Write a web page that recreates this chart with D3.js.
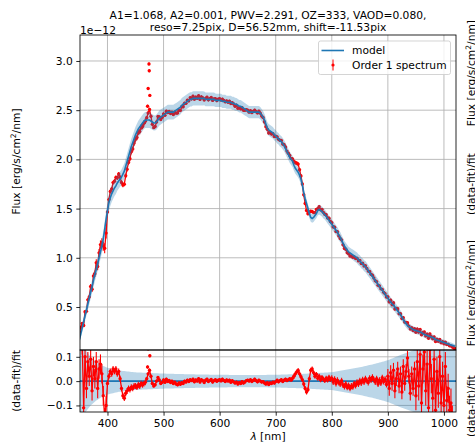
<!doctype html>
<html>

<head>
    <meta charset="UTF-8">
    <title>Order 1 spectrum fit</title>
    <script src="https://d3js.org/d3.v7.min.js"></script>
    <style>
        body { margin: 0; background: #fff; }
        text { font-family: "DejaVu Sans", sans-serif; font-size: 10.7px; fill: #000; }
    </style>
</head>

<body>
    <script>
        var width = 475;
        var height = 446;

        // wavelength grid: 350 nm, step 2.5 nm
        var lamStart = 350, lamStep = 2.5;

        // model flux [1e-12 erg/s/cm2/nm], one row = 50 nm
        var model = [
            0.17, 0.23, 0.29, 0.35, 0.41, 0.47, 0.53, 0.59, 0.65, 0.71, 0.77, 0.83, 0.88, 0.94, 1.00, 1.06, 1.12, 1.19, 1.29, 1.39,
            1.48, 1.56, 1.61, 1.65, 1.68, 1.71, 1.73, 1.76, 1.78, 1.80, 1.82, 1.85, 1.88, 1.93, 1.98, 2.03, 2.08, 2.13, 2.17, 2.21,
            2.25, 2.28, 2.31, 2.33, 2.35, 2.37, 2.39, 2.40, 2.40, 2.40, 2.40, 2.39, 2.38, 2.37, 2.37, 2.38, 2.40, 2.42, 2.43, 2.44,
            2.45, 2.46, 2.47, 2.48, 2.48, 2.48, 2.48, 2.48, 2.49, 2.50, 2.51, 2.52, 2.53, 2.55, 2.56, 2.57, 2.58, 2.59, 2.60, 2.61,
            2.61, 2.62, 2.62, 2.62, 2.62, 2.62, 2.62, 2.62, 2.62, 2.62, 2.61, 2.61, 2.61, 2.61, 2.61, 2.61, 2.61, 2.60, 2.60, 2.60,
            2.60, 2.60, 2.59, 2.59, 2.59, 2.58, 2.58, 2.58, 2.58, 2.57, 2.57, 2.56, 2.56, 2.55, 2.54, 2.54, 2.53, 2.52, 2.51, 2.50,
            2.49, 2.48, 2.48, 2.48, 2.48, 2.48, 2.48, 2.48, 2.48, 2.47, 2.45, 2.43, 2.40, 2.36, 2.32, 2.30, 2.29, 2.28, 2.27, 2.25,
            2.24, 2.22, 2.21, 2.19, 2.18, 2.16, 2.14, 2.11, 2.08, 2.05, 2.02, 2.00, 1.98, 1.94, 1.91, 1.89, 1.87, 1.84, 1.80, 1.74,
            1.66, 1.60, 1.55, 1.50, 1.45, 1.41, 1.40, 1.41, 1.43, 1.45, 1.48, 1.49, 1.48, 1.47, 1.45, 1.44, 1.42, 1.40, 1.38, 1.36,
            1.34, 1.32, 1.30, 1.28, 1.26, 1.23, 1.21, 1.18, 1.15, 1.12, 1.10, 1.08, 1.06, 1.05, 1.04, 1.03, 1.02, 1.01, 1.00, 0.98,
            0.97, 0.95, 0.94, 0.92, 0.91, 0.89, 0.87, 0.85, 0.83, 0.81, 0.79, 0.77, 0.75, 0.73, 0.71, 0.69, 0.67, 0.65, 0.63, 0.61,
            0.59, 0.57, 0.55, 0.53, 0.52, 0.50, 0.48, 0.46, 0.44, 0.42, 0.40, 0.37, 0.35, 0.33, 0.31, 0.30, 0.29, 0.28, 0.27, 0.265,
            0.26, 0.255, 0.25, 0.245, 0.24, 0.23, 0.22, 0.215, 0.21, 0.205, 0.20, 0.195, 0.19, 0.18, 0.17, 0.165, 0.16, 0.155, 0.15, 0.145,
            0.14, 0.135, 0.13, 0.125, 0.12, 0.115, 0.11, 0.105, 0.10
        ];

        // (data-fit)/fit on the same grid
        var resid = [
            0.45, 0.28, 0.15, -0.11, 0.10, -0.03, 0.08, 0.02, 0.09, -0.04, 0.06, 0.01, 0.08, -0.03, 0.05, 0.07, 0.03, -0.06, -0.15, -0.10,
            -0.01, 0.02, 0.04, 0.03, 0.05, 0.04, 0.05, 0.03, 0.04, 0.01, -0.03, -0.06, -0.07, -0.05, -0.04, -0.03, -0.035, -0.025, -0.03, -0.02,
            -0.02, -0.025, -0.015, -0.02, -0.01, -0.015, -0.01, -0.005, 0.01, 0.03, 0.045, 0.02, -0.01, -0.02, -0.015, 0.0, 0.015, 0.005, -0.01, -0.005,
            0.005, -0.005, 0.008, -0.002, 0.003, -0.006, 0.0, -0.01, -0.004, -0.012, -0.015, -0.008, -0.013, -0.006, -0.01, 0.0, -0.004, 0.004, -0.002, 0.006,
            0.002, 0.008, -0.003, 0.005, 0.0, 0.01, -0.004, 0.006, 0.002, -0.006, 0.004, 0.008, -0.002, 0.003, 0.007, -0.004, 0.002, 0.006, -0.001, 0.004,
            0.006, 0.001, 0.008, 0.003, -0.002, 0.005, 0.0, 0.004, -0.005, 0.002, -0.003, -0.008, -0.004, -0.012, -0.006, -0.01, -0.002, -0.008, -0.004, 0.002,
            0.004, 0.0, 0.006, -0.002, 0.003, 0.008, 0.002, -0.003, 0.004, 0.0, -0.004, -0.002, -0.008, -0.012, -0.006, -0.014, -0.008, -0.01, -0.004, -0.008,
            -0.002, 0.004, -0.003, 0.002, 0.006, -0.002, 0.004, 0.008, 0.002, 0.006, 0.01, 0.004, 0.012, 0.02, 0.03, 0.038, 0.044, 0.03, 0.018, 0.006,
            -0.012, -0.03, -0.045, -0.035, 0.01, 0.045, 0.05, 0.035, 0.02, 0.028, 0.012, 0.02, 0.005, 0.015, 0.008, 0.002, 0.012, 0.004, 0.016, 0.006,
            0.012, -0.004, 0.008, -0.01, 0.004, -0.006, -0.012, 0.002, -0.016, -0.022, -0.012, -0.026, -0.018, -0.03, -0.02, -0.024, -0.01, -0.018, -0.004, -0.012,
            0.002, -0.008, 0.006, -0.004, 0.01, 0.002, -0.006, 0.012, 0.004, 0.016, 0.006, -0.004, 0.01, -0.012, 0.004, -0.008, 0.014, -0.002, 0.008, -0.014,
            0.02, -0.03, 0.035, -0.01, 0.045, -0.04, 0.01, 0.05, -0.02, 0.03, -0.045, 0.06, -0.01, 0.04, 0.095, 0.02, -0.05, 0.03, -0.03, 0.05,
            -0.06, 0.08, -0.02, 0.11, -0.09, 0.05, 0.12, -0.04, 0.07, -0.11, 0.13, 0.01, -0.07, 0.09, -0.12, 0.04, -0.05, 0.10, -0.09, 0.02,
            -0.10, 0.06, -0.08, -0.03, -0.12, -0.09, -0.16, -0.20, -0.25
        ];

        // isolated bright points near 474 nm
        var outLam = [471.5, 472.5, 474, 474.5, 475.5];
        var outFlux = [2.54, 2.72, 2.97, 2.90, 2.65];

        // relative error bars by wavelength range
        var errBreaks = [400, 470, 730, 800, 900, 950];
        var errRel = [0.04, 0.012, 0.006, 0.01, 0.012, 0.03, 0.06];

        // relative model uncertainty band
        var bandLam = [350, 360, 370, 380, 390, 400, 420, 450, 500, 550, 600, 650, 700, 750, 800, 850, 875, 900, 925, 950, 975, 1000, 1020];
        var bandRel = [0.20, 0.13, 0.10, 0.08, 0.065, 0.055, 0.044, 0.036, 0.031, 0.028, 0.026, 0.025, 0.026, 0.03, 0.037, 0.057, 0.07, 0.086, 0.11, 0.13, 0.16, 0.19, 0.22];

        var xTicks = [400, 500, 600, 700, 800, 900, 1000];
        var fluxTicks = [0.5, 1.0, 1.5, 2.0, 2.5, 3.0];
        var resTicks = [-0.1, 0.0, 0.1];
        var titleLines = ["A1=1.068, A2=0.001, PWV=2.291, OZ=333, VAOD=0.080,",
            "reso=7.25pix, D=56.52mm, shift=-11.53pix"];

        var blue = "#1f77b4";
        var left = 80, right = 456, mainTop = 35, mainBottom = 350, resBottom = 412;

        var x = d3.scaleLinear().domain([351, 1021.5]).range([left, right]);
        var yMain = d3.scaleLinear().domain([0.063, 3.264]).range([mainBottom, mainTop]);
        var yRes = d3.scaleLinear().domain([-0.127, 0.128]).range([resBottom, mainBottom]);
        var errScale = d3.scaleThreshold().domain(errBreaks).range(errRel);
        var bandScale = d3.scaleLinear().domain(bandLam).range(bandRel);

        var grid = model.map(function (m, i) {
            var l = lamStart + i * lamStep;
            return { lam: l, model: m, res: resid[i], flux: m * (1 + resid[i]), err: errScale(l) };
        });
        var points = grid.slice();
        outLam.forEach(function (l, j) {
            var m = model[Math.round((l - lamStart) / lamStep)];
            points.push({ lam: l, model: m, res: outFlux[j] / m - 1, flux: outFlux[j], err: errScale(l) });
        });

        var svg = d3.select("body").append("svg")
            .attr("width", width)
            .attr("height", height);
        svg.append("rect").attr("width", width).attr("height", height).attr("fill", "#fff");

        var defs = svg.append("defs");
        defs.append("clipPath").attr("id", "clipMain").append("rect")
            .attr("x", left).attr("y", mainTop).attr("width", right - left).attr("height", mainBottom - mainTop);
        defs.append("clipPath").attr("id", "clipRes").append("rect")
            .attr("x", left).attr("y", mainBottom).attr("width", right - left).attr("height", resBottom - mainBottom);

        function gridLines(g, yScale, yTicks, y0, y1) {
            g.selectAll("line.gx").data(xTicks).enter().append("line")
                .attr("x1", function (d) { return x(d); }).attr("x2", function (d) { return x(d); })
                .attr("y1", y0).attr("y2", y1)
                .attr("stroke", "#b0b0b0").attr("stroke-width", 0.85);
            g.selectAll("line.gy").data(yTicks).enter().append("line")
                .attr("x1", left).attr("x2", right)
                .attr("y1", function (d) { return yScale(d); }).attr("y2", function (d) { return yScale(d); })
                .attr("stroke", "#b0b0b0").attr("stroke-width", 0.85);
        }

        // dense spectrum: joined samples, error bars and markers
        function errorBars(g, data, lo, hi, yv) {
            g.append("path").datum(grid)
                .attr("d", d3.line().x(function (d) { return x(d.lam); }).y(yv))
                .attr("fill", "none").attr("stroke", "red").attr("stroke-width", 1.3);
            g.append("g").selectAll("line").data(data).enter().append("line")
                .attr("x1", function (d) { return x(d.lam); }).attr("x2", function (d) { return x(d.lam); })
                .attr("y1", lo).attr("y2", hi)
                .attr("stroke", "red").attr("stroke-width", 1.1);
            g.append("g").selectAll("circle").data(data).enter().append("circle")
                .attr("cx", function (d) { return x(d.lam); })
                .attr("cy", yv)
                .attr("r", 1.7)
                .attr("fill", "red");
        }

        // ---- main panel
        var gMain = svg.append("g");
        gridLines(gMain, yMain, fluxTicks, mainTop, mainBottom);
        var mainPlot = gMain.append("g").attr("clip-path", "url(#clipMain)");
        errorBars(mainPlot, points,
            function (d) { return yMain(d.flux - d.err * d.model); },
            function (d) { return yMain(d.flux + d.err * d.model); },
            function (d) { return yMain(d.flux); });
        mainPlot.append("path").datum(grid)
            .attr("d", d3.area()
                .x(function (d) { return x(d.lam); })
                .y0(function (d) { return yMain(d.model * (1 - bandScale(d.lam))); })
                .y1(function (d) { return yMain(d.model * (1 + bandScale(d.lam))); }))
            .attr("fill", blue).attr("fill-opacity", 0.3);
        mainPlot.append("path").datum(grid)
            .attr("d", d3.line().x(function (d) { return x(d.lam); }).y(function (d) { return yMain(d.model); }))
            .attr("fill", "none").attr("stroke", blue).attr("stroke-width", 1.6);

        // ---- residual panel
        var gRes = svg.append("g");
        gridLines(gRes, yRes, resTicks, mainBottom, resBottom);
        var resPlot = gRes.append("g").attr("clip-path", "url(#clipRes)");
        resPlot.append("path").datum(grid)
            .attr("d", d3.area()
                .x(function (d) { return x(d.lam); })
                .y0(function (d) { return yRes(-bandScale(d.lam)); })
                .y1(function (d) { return yRes(bandScale(d.lam)); }))
            .attr("fill", blue).attr("fill-opacity", 0.3);
        resPlot.append("line")
            .attr("x1", left).attr("x2", right).attr("y1", yRes(0)).attr("y2", yRes(0))
            .attr("stroke", blue).attr("stroke-width", 1.6);
        errorBars(resPlot, points,
            function (d) { return yRes(d.res - d.err); },
            function (d) { return yRes(d.res + d.err); },
            function (d) { return yRes(d.res); });

        // ---- axes
        function styleAxis(g) {
            g.select(".domain").remove();
            g.selectAll(".tick line").attr("stroke", "#000").attr("stroke-width", 0.85);
            g.selectAll(".tick text").style("font-family", "DejaVu Sans").style("font-size", "10.7px").attr("fill", "#000");
        }
        svg.append("g").attr("transform", "translate(" + left + ",0)")
            .call(d3.axisLeft(yMain).tickValues(fluxTicks).tickSize(3.7).tickPadding(3.5).tickFormat(d3.format(".1f")))
            .call(styleAxis);
        svg.append("g").attr("transform", "translate(" + left + ",0)")
            .call(d3.axisLeft(yRes).tickValues(resTicks).tickSize(3.7).tickPadding(3.5).tickFormat(d3.format(".1f")))
            .call(styleAxis);
        svg.append("g").attr("transform", "translate(0," + resBottom + ")")
            .call(d3.axisBottom(x).tickValues(xTicks).tickSize(3.7).tickPadding(3.5).tickFormat(d3.format("d")))
            .call(styleAxis);

        // spines
        [[mainTop, mainBottom], [mainBottom, resBottom]].forEach(function (p) {
            svg.append("rect")
                .attr("x", left).attr("y", p[0]).attr("width", right - left).attr("height", p[1] - p[0])
                .attr("fill", "none").attr("stroke", "#000").attr("stroke-width", 0.85);
        });

        // ---- texts
        titleLines.forEach(function (t, i) {
            svg.append("text").attr("x", 268).attr("y", 19 + i * 12.4)
                .attr("text-anchor", "middle").text(t);
        });
        svg.append("text").attr("x", left).attr("y", 33.5).text("1e\u221212");

        var xl = svg.append("text").attr("x", 268).attr("y", 440).attr("text-anchor", "middle");
        xl.append("tspan").style("font-style", "italic").text("\u03bb");
        xl.append("tspan").text(" [nm]");

        function fluxLabel(xp, yp, anchor) {
            var t = svg.append("text")
                .attr("transform", "translate(" + xp + "," + yp + ") rotate(-90)")
                .attr("text-anchor", anchor);
            t.append("tspan").text("Flux [erg/s/cm");
            t.append("tspan").attr("dy", -4).style("font-size", "7.5px").text("2");
            t.append("tspan").attr("dy", 4).text("/nm]");
        }
        function resLabel(xp, yp, anchor) {
            svg.append("text")
                .attr("transform", "translate(" + xp + "," + yp + ") rotate(-90)")
                .attr("text-anchor", anchor).text("(data-fit)/fit");
        }
        fluxLabel(20, 161.5, "middle");
        resLabel(20, 381, "middle");
        // labels of the neighbouring panels, cut by the right edge
        fluxLabel(474.5, 20, "end");
        resLabel(474.5, 215, "start");
        fluxLabel(474.5, 240, "end");
        resLabel(474.5, 437, "start");

        // ---- legend
        var lg = svg.append("g");
        lg.append("rect").attr("x", 318.5).attr("y", 41).attr("width", 132).attr("height", 33.5).attr("rx", 2)
            .attr("fill", "#fff").attr("fill-opacity", 0.8).attr("stroke", "#cccccc").attr("stroke-width", 0.85);
        lg.append("line").attr("x1", 321.5).attr("x2", 344).attr("y1", 50.5).attr("y2", 50.5)
            .attr("stroke", blue).attr("stroke-width", 1.6);
        lg.append("text").attr("x", 352).attr("y", 54.3).text("model");
        lg.append("line").attr("x1", 333).attr("x2", 333).attr("y1", 59.5).attr("y2", 70.5)
            .attr("stroke", "red").attr("stroke-width", 1);
        lg.append("circle").attr("cx", 333).attr("cy", 65).attr("r", 1.6).attr("fill", "red");
        lg.append("text").attr("x", 352).attr("y", 68.6).text("Order 1 spectrum");
    </script>
</body>

</html>
